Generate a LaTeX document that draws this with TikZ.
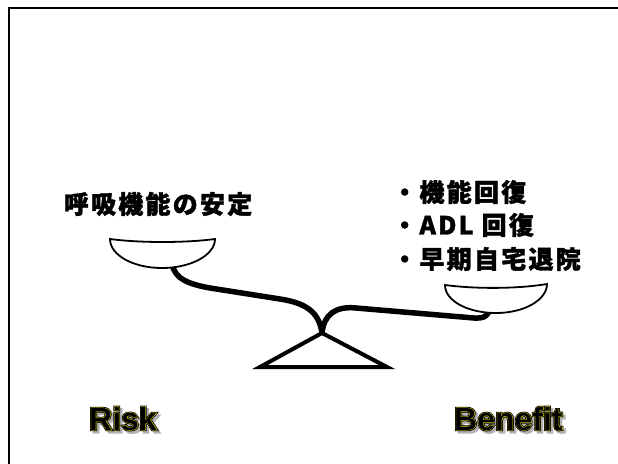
\documentclass[tikz,border=0pt]{standalone}
\usepackage{fontspec}
\newfontfamily\jpfont{Noto Sans CJK JP}[LetterSpace=9, FakeBold=1.5]
\newfontfamily\waouter{Liberation Sans}[FakeBold=7]
\newfontfamily\wamid{Liberation Sans}[FakeBold=2.2]
\newfontfamily\wainner{Liberation Sans}
\definecolor{wayellow}{RGB}{225,215,0}
\newcommand\wordart[1]{%
  \makebox[0pt][l]{\hspace{2.5pt}\raisebox{-2.5pt}{\color{black!30}\waouter\bfseries #1}}%
  \makebox[0pt][l]{\color{black}\waouter\bfseries #1}%
  \makebox[0pt][l]{\color{wayellow}\wamid\bfseries #1}%
  {\color{black}\wainner\bfseries #1}}
\tikzset{
  jptext/.style={inner sep=0pt, font=\jpfont\bfseries\fontsize{25}{30}\selectfont},
  watext/.style={inner sep=0pt, font=\fontsize{32}{36}\selectfont},
  pan/.style={draw=black, line width=1.8pt, fill=white},
  beam/.style={draw=black, line width=5.5pt, line cap=butt, line join=round},
  fulcrum/.style={draw=black, line width=4pt, line join=miter},
  frame/.style={draw=black, line width=2.5pt}
}
\begin{document}
\begin{tikzpicture}[x=1pt,y=-1pt]
\useasboundingbox (0,0) rectangle (618,463);
% frame
\draw[frame] (9,470) -- (9,8) -- (625,8);
% texts
\node[jptext] (risktext) at (158,204) {呼吸機能の安定};
\node[jptext, anchor=west] (b1) at (392,192) {・機能回復};
\node[jptext, anchor=west] (b2) at (392,225) {・ADL 回復};
\node[jptext, anchor=west] (b3) at (392,259) {・早期自宅退院};
\node[watext, anchor=base west] (risk) at (89,430) {\wordart{Risk}};
\node[watext, anchor=base west] (benefit) at (454,430) {\wordart{Benefit}};
% coordinates
\coordinate (lpan) at (171,257);
\coordinate (rpan) at (489,310);
\coordinate (pivot) at (322,333);
\coordinate (bl) at (260,367);
\coordinate (br) at (387,367);
% beam
\draw[beam] (lpan) .. controls (172,276) and (182,283) .. (210,288)
  -- (280,299) .. controls (306,303) and (319,312) .. (pivot);
\draw[beam] (pivot) .. controls (324,314) and (336,306) .. (356,308)
  -- (474,318) .. controls (484,318.5) and (488,316) .. (rpan);
% fulcrum
\draw[fulcrum] (pivot) -- (br) -- (bl) -- cycle;
% pans
\draw[pan] (110,239) .. controls (140,243) and (185,243) .. (215,239)
  .. controls (215,255) and (191,268) .. (162,268)
  .. controls (133,268) and (110,255) .. (110,239) -- cycle;
\draw[pan] (445,285) .. controls (475,289) and (517,289) .. (547,284)
  .. controls (547,300) and (524,313) .. (496,313)
  .. controls (468,313) and (445,301) .. (445,285) -- cycle;
\end{tikzpicture}
\end{document}
